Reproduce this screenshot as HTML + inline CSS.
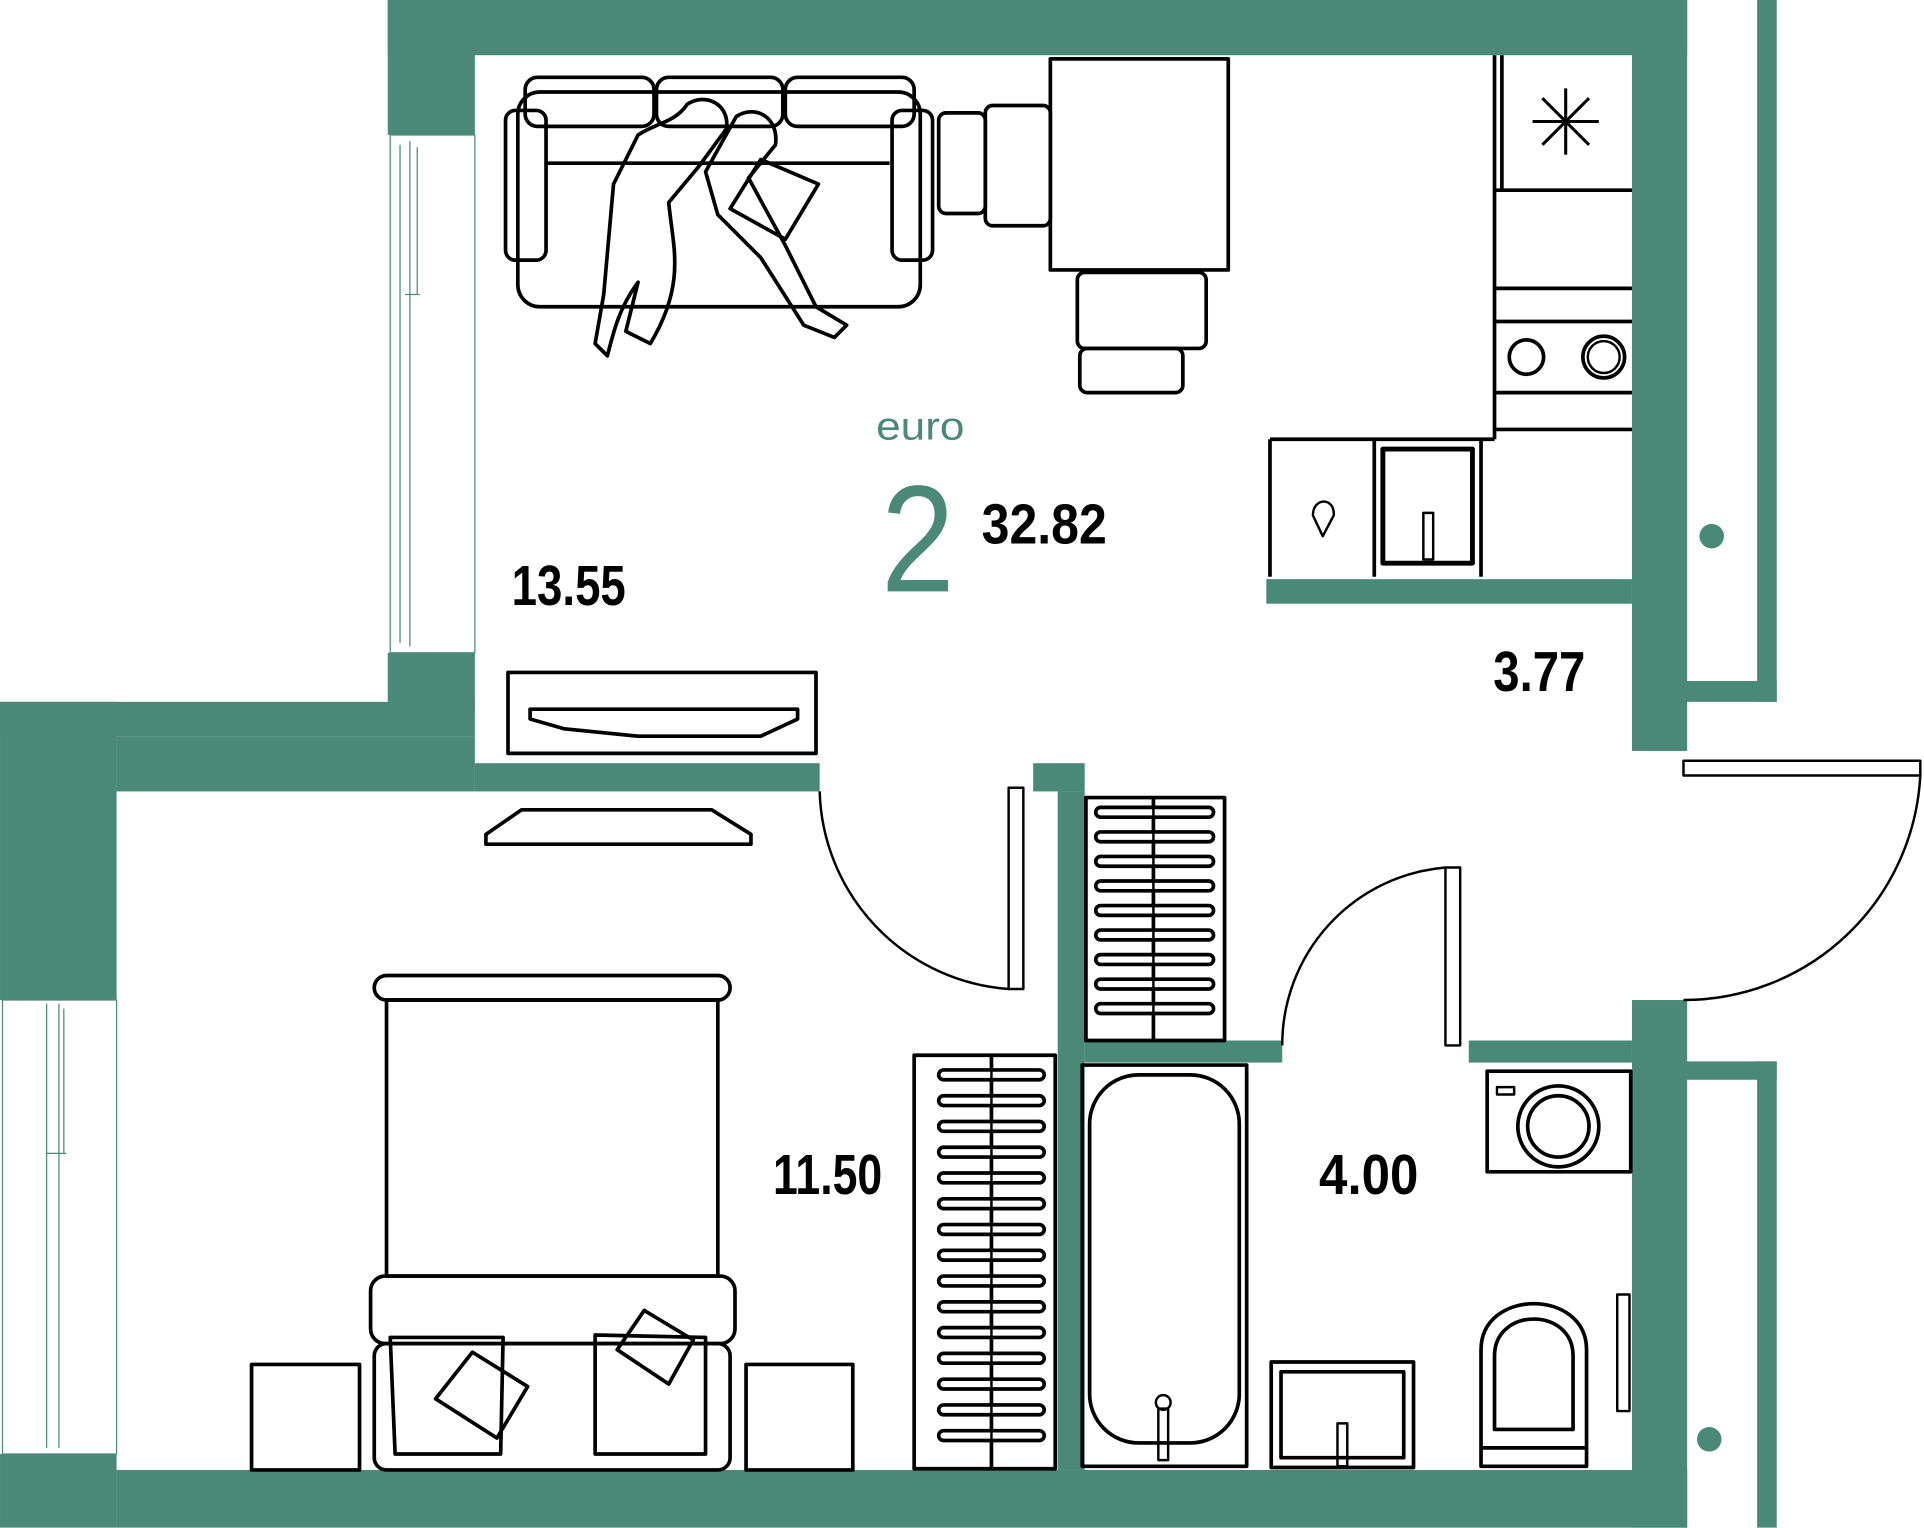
<!DOCTYPE html>
<html><head><meta charset="utf-8"><style>html,body{margin:0;padding:0;background:#fff}svg{display:block}</style></head><body>
<svg width="1924" height="1528" viewBox="0 0 1568 1245.3" xmlns="http://www.w3.org/2000/svg">
<g fill="#4a8878">
<rect x="316" y="0" width="1059" height="45"/>
<rect x="316" y="0" width="71" height="110"/>
<rect x="316" y="532" width="71" height="45"/>
<rect x="0" y="572" width="387" height="28"/>
<rect x="95" y="600" width="292" height="45"/>
<rect x="387" y="622" width="281" height="23"/>
<rect x="0" y="572" width="95" height="243"/>
<rect x="0" y="1185" width="95" height="60"/>
<rect x="95" y="1198" width="1280" height="47"/>
<rect x="1330" y="0" width="45" height="612"/>
<rect x="1330" y="815" width="45" height="430"/>
<rect x="1432" y="0" width="16" height="572"/>
<rect x="1370" y="555" width="78" height="17"/>
<rect x="1370" y="865" width="78" height="15"/>
<rect x="1432" y="865" width="16" height="380"/>
<circle cx="1395" cy="437" r="10"/>
<circle cx="1393" cy="1173" r="10"/>
<rect x="1032" y="472" width="298" height="20"/>
<rect x="842" y="622" width="42" height="23"/>
<rect x="862" y="645" width="22" height="553"/>
<rect x="884" y="848" width="161" height="18"/>
<rect x="1197" y="848" width="133" height="18"/>
</g>
<g fill="none" stroke="#4a8878" stroke-width="1">
<rect x="318" y="110" width="69" height="422" fill="#fff"/>
<line x1="326" y1="118" x2="326" y2="524"/><line x1="334" y1="115" x2="334" y2="527"/><line x1="340" y1="120" x2="340" y2="240"/><line x1="330" y1="240" x2="342" y2="240"/>
<rect x="2" y="815" width="93" height="370" fill="#fff"/>
<line x1="38" y1="818" x2="38" y2="1180"/><line x1="48" y1="818" x2="48" y2="1180"/><line x1="52" y1="822" x2="52" y2="940"/><line x1="38" y1="940" x2="54" y2="940"/>
</g>
<g fill="none" stroke="#000" stroke-width="3" stroke-linejoin="round">
<rect x="822" y="642" width="12" height="164" stroke-width="2"/>
<path d="M668 645 A166 166 0 0 0 822 806" stroke-width="2"/>
<rect x="1178" y="707" width="12" height="145" stroke-width="2"/>
<path d="M1045 852 A145 145 0 0 1 1178 707" stroke-width="2"/>
<rect x="1372" y="620" width="193" height="12" stroke-width="2"/>
<path d="M1565 632 A193 193 0 0 1 1372 815" stroke-width="2"/>
<rect x="422" y="75" width="328" height="175" rx="18"/>
<rect x="428" y="63" width="105" height="40" rx="10"/><rect x="535" y="63" width="103" height="40" rx="10"/><rect x="640" y="63" width="105" height="40" rx="10"/>
<line x1="445" y1="133" x2="725" y2="133"/>
<rect x="412" y="90" width="33" height="122" rx="8"/><rect x="727" y="90" width="33" height="122" rx="8"/>
<path d="M560 85 C575 75 595 85 592 105 L570 135 L545 165 C548 200 560 230 530 280 L510 270 L520 230 C505 250 500 270 495 290 L485 280 L492 240 L500 150 L520 110 C535 100 550 100 560 85 Z"/>
<path d="M600 95 C615 85 635 95 632 118 L610 145 L640 200 L665 250 L690 265 L680 275 L655 265 L620 210 L585 175 L575 140 Z"/>
<path d="M595 170 L640 195 L667 150 L620 130 Z"/>
<rect x="856" y="48" width="145" height="172"/>
<rect x="765" y="92" width="38" height="82" rx="6"/><rect x="803" y="86" width="53" height="98" rx="6"/>
<rect x="878" y="222" width="105" height="62" rx="6"/><rect x="880" y="284" width="84" height="36" rx="6"/>
<line x1="1218" y1="45" x2="1218" y2="358"/><line x1="1224" y1="45" x2="1224" y2="155"/>
<line x1="1218" y1="155" x2="1330" y2="155"/><line x1="1218" y1="235" x2="1330" y2="235"/>
<line x1="1218" y1="262" x2="1330" y2="262"/><line x1="1218" y1="320" x2="1330" y2="320"/><line x1="1218" y1="350" x2="1330" y2="350"/>
<circle cx="1244" cy="291" r="14"/><circle cx="1307" cy="291" r="17"/><circle cx="1307" cy="291" r="13" stroke-width="2"/>
<path d="M1035 358 L1218 358 M1035 358 L1035 470 M1120 358 L1120 470 M1207 358 L1207 470"/>
<rect x="1127" y="366" width="73" height="93" stroke-width="4"/>
<rect x="1160" y="418" width="8" height="38" stroke-width="2"/>
<path d="M1070 420 C1070 405 1088 405 1087 420 L1078 437 Z" stroke-width="2"/>
<g stroke-width="2.5"><line x1="1276" y1="72" x2="1276" y2="126"/><line x1="1249" y1="99" x2="1303" y2="99"/><line x1="1257" y1="80" x2="1295" y2="118"/><line x1="1295" y1="80" x2="1257" y2="118"/></g>
<rect x="414" y="548" width="251" height="66"/>
<path d="M432 578 L650 578 L650 586 L620 600 L520 600 L460 594 L432 586 Z"/>
<path d="M396 680 L425 660 L580 660 L612 680 L612 688 L396 688 Z"/>
<rect x="305" y="795" width="290" height="20" rx="10"/>
<rect x="315" y="815" width="270" height="225"/>
<rect x="302" y="1040" width="297" height="55" rx="12"/>
<rect x="305" y="1095" width="290" height="103" rx="10"/>
<path d="M318 1090 L410 1090 L408 1185 L322 1185 Z"/><path d="M485 1088 L575 1090 L575 1185 L485 1185 Z"/>
<path d="M355 1140 L385 1102 L430 1130 L405 1172 Z"/><path d="M503 1100 L525 1068 L565 1092 L545 1128 Z"/>
<rect x="205" y="1112" width="88" height="86"/><rect x="608" y="1112" width="87" height="86"/>
<rect x="745" y="860" width="115" height="337"/><line x1="808" y1="860" x2="808" y2="1197"/>
<rect x="885" y="650" width="113" height="198"/><line x1="940" y1="650" x2="940" y2="848"/>
<rect x="882" y="868" width="134" height="327"/>
<rect x="888" y="876" width="122" height="300" rx="40"/>
<rect x="944" y="1148" width="8" height="42" stroke-width="2"/><circle cx="948" cy="1143" r="6" stroke-width="2"/>
<rect x="1036" y="1110" width="116" height="86"/><rect x="1044" y="1118" width="100" height="70"/>
<rect x="1090" y="1160" width="8" height="35" stroke-width="2"/>
<path d="M1207 1195 L1207 1100 C1207 1050 1293 1050 1293 1100 L1293 1195 Z"/>
<path d="M1218 1165 L1218 1105 C1218 1065 1282 1065 1282 1105 L1282 1165 Z"/>
<line x1="1207" y1="1180" x2="1293" y2="1180"/>
<rect x="1318" y="1055" width="10" height="95" stroke-width="2"/>
<rect x="1212" y="873" width="117" height="82"/><circle cx="1270" cy="918" r="33"/><circle cx="1270" cy="918" r="25"/>
<rect x="1220" y="886" width="14" height="6" stroke-width="2"/>
</g>
<g fill="none" stroke-linecap="round">
<path d="M897 662h88M897 682h88M897 702h88M897 722h88M897 742h88M897 762h88M897 782h88M897 802h88M897 822h88" stroke="#000" stroke-width="11"/>
<path d="M897 662h88M897 682h88M897 702h88M897 722h88M897 742h88M897 762h88M897 782h88M897 802h88M897 822h88" stroke="#fff" stroke-width="5"/>
<path d="M769 876h78M769 897h78M769 918h78M769 939h78M769 960h78M769 981h78M769 1002h78M769 1023h78M769 1044h78M769 1065h78M769 1086h78M769 1107h78M769 1128h78M769 1149h78M769 1170h78" stroke="#000" stroke-width="11"/>
<path d="M769 876h78M769 897h78M769 918h78M769 939h78M769 960h78M769 981h78M769 1002h78M769 1023h78M769 1044h78M769 1065h78M769 1086h78M769 1107h78M769 1128h78M769 1149h78M769 1170h78" stroke="#fff" stroke-width="5"/>
</g>
<g stroke="#000" stroke-width="2"><line x1="940" y1="650" x2="940" y2="848"/><line x1="808" y1="860" x2="808" y2="1197"/></g>
<g font-family="Liberation Sans, sans-serif">
<text x="714" y="358" font-size="32" fill="#4a8878" textLength="72" lengthAdjust="spacingAndGlyphs">euro</text>
<text x="718" y="482" font-size="124" fill="#4a8878" textLength="60" lengthAdjust="spacingAndGlyphs">2</text>
<g font-weight="bold" font-size="46" fill="#000">
<text x="800" y="443" textLength="102" lengthAdjust="spacingAndGlyphs">32.82</text>
<text x="417" y="493" textLength="93" lengthAdjust="spacingAndGlyphs">13.55</text>
<text x="1217" y="563" textLength="75" lengthAdjust="spacingAndGlyphs">3.77</text>
<text x="630" y="973" textLength="89" lengthAdjust="spacingAndGlyphs">11.50</text>
<text x="1075" y="973" textLength="81" lengthAdjust="spacingAndGlyphs">4.00</text>
</g>
</g>
</svg>
</body></html>
